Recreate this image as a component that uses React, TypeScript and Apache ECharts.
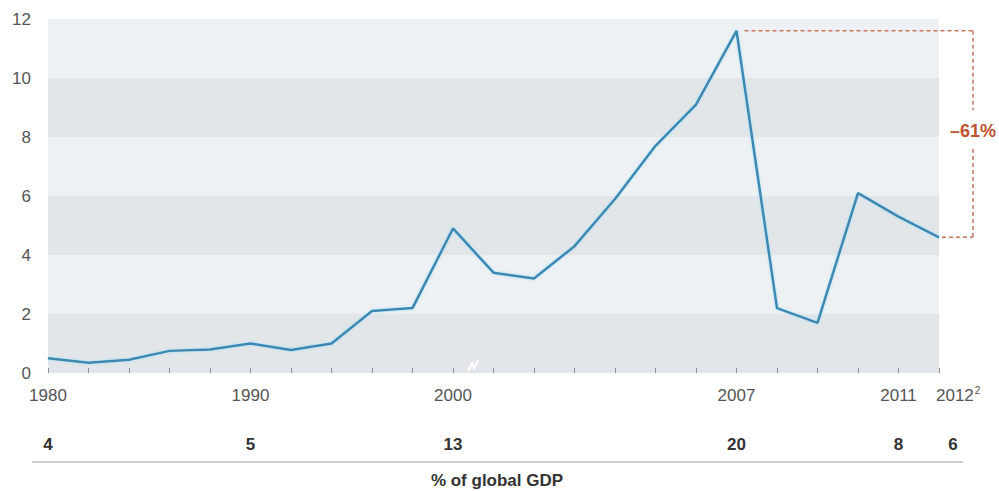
import React, { useEffect, useRef } from "react";
import * as echarts from "echarts";

const years: string[] = [
  "1980", "1982", "1984", "1986", "1988", "1990", "1992", "1994", "1996", "1998",
  "2000", "2001", "2002", "2003", "2004", "2005", "2006", "2007", "2008", "2009",
  "2010", "2011", "2012",
];
const flows: number[] = [
  0.5, 0.35, 0.45, 0.75, 0.8, 1.0, 0.78, 1.0, 2.1, 2.2,
  4.9, 3.4, 3.2, 4.3, 5.9, 7.7, 9.1, 11.6, 2.2, 1.7,
  6.1, 5.3, 4.6,
];
const labeledYears: string[] = ["1980", "1990", "2000", "2007", "2011"];
const lastYear = "2012";
const lastYearNote = "2";
const gdpShareYears: string[] = ["1980", "1990", "2000", "2007", "2011", "2012"];
const gdpShare: number[] = [4, 5, 13, 20, 8, 6];
const peakYear = "2007";
const changeLabel = "–61%";
const footLabel = "% of global GDP";

const FONT = "'Liberation Sans', Arial, Helvetica, sans-serif";

export default function App() {
  const ref = useRef<HTMLDivElement>(null);
  useEffect(() => {
    if (!ref.current) return;
    const chart = echarts.init(ref.current, undefined, { renderer: "svg" });
    const option: any = {
      animation: false,
      backgroundColor: "#ffffff",
      grid: { left: 48, right: 60, top: 19, bottom: 118, containLabel: false },
      xAxis: [
        {
          type: "category",
          data: years,
          boundaryGap: false,
          axisLine: { show: false },
          axisTick: {
            show: true,
            inside: true,
            length: 5,
            interval: 0,
            lineStyle: { color: "#8a8f93", width: 1 },
          },
          axisLabel: {
            interval: (i: number, v: string) => labeledYears.includes(v),
            margin: 12,
            color: "#555",
            fontSize: 17,
            lineHeight: 20,
            fontFamily: FONT,
          },
          splitLine: { show: false },
        },
        {
          type: "category",
          data: years,
          boundaryGap: false,
          position: "bottom",
          offset: 50,
          axisLine: { show: false },
          axisTick: { show: false },
          axisLabel: {
            interval: (i: number, v: string) => gdpShareYears.includes(v),
            margin: 11,
            formatter: (v: string) => {
              const idx = gdpShareYears.indexOf(v);
              const val = idx >= 0 ? String(gdpShare[idx]) : "";
              return v === lastYear ? `{shift|${val}}` : `{b|${val}}`;
            },
            rich: {
              b: { fontSize: 17, fontWeight: "bold", color: "#333", fontFamily: FONT, lineHeight: 20 },
              shift: {
                fontSize: 17,
                fontWeight: "bold",
                color: "#333",
                fontFamily: FONT,
                lineHeight: 20,
                padding: [0, 0, 0, 28],
              },
            },
          },
          splitLine: { show: false },
        },
      ],
      yAxis: {
        type: "value",
        min: 0,
        max: 12,
        interval: 2,
        axisLine: { show: false },
        axisTick: { show: false },
        axisLabel: { color: "#555", fontSize: 17, fontFamily: FONT, margin: 17 },
        splitLine: { show: false },
        splitArea: {
          show: true,
          areaStyle: { color: ["#e2e6e9", "#eef1f3"] },
        },
      },
      series: [
        {
          type: "line",
          data: flows,
          xAxisIndex: 0,
          symbol: "none",
          lineStyle: {
            color: "#3a88b2",
            width: 2.5,
            shadowColor: "#a9e0f6",
            shadowBlur: 3,
          },
          z: 5,
        },
      ],
    };
    chart.setOption(option);

    const pi = years.indexOf(peakYear);
    const li = years.indexOf(lastYear);
    const p7 = chart.convertToPixel({ gridIndex: 0 }, [pi, flows[pi]]) as number[];
    const p12 = chart.convertToPixel({ gridIndex: 0 }, [li, flows[li]]) as number[];
    const base12 = chart.convertToPixel({ gridIndex: 0 }, [li, 0]) as number[];
    const i2000 = years.indexOf("2000");
    const b0 = chart.convertToPixel({ gridIndex: 0 }, [i2000, 0]) as number[];
    const b1 = chart.convertToPixel({ gridIndex: 0 }, [i2000 + 1, 0]) as number[];
    const bx = 973;
    const midY = (p7[1] + p12[1]) / 2;
    const red = "#c8745e";
    const dash = { stroke: red, lineWidth: 1.5, lineDash: [4, 3] };
    const brkX = (b0[0] + b1[0]) / 2;
    chart.setOption({
      graphic: [
        { type: "line", shape: { x1: p7[0] + 8, y1: p7[1], x2: bx, y2: p7[1] }, style: dash, z: 10 },
        { type: "line", shape: { x1: bx, y1: p7[1], x2: bx, y2: midY - 24 }, style: dash, z: 10 },
        { type: "line", shape: { x1: bx, y1: midY + 15, x2: bx, y2: p12[1] }, style: dash, z: 10 },
        { type: "line", shape: { x1: p12[0] + 3, y1: p12[1], x2: bx, y2: p12[1] }, style: dash, z: 10 },
        {
          type: "text",
          x: bx,
          y: midY - 3,
          style: {
            text: changeLabel,
            fill: "#c0532f",
            font: `bold 18px ${FONT}`,
            align: "center",
            verticalAlign: "middle",
          },
          z: 10,
        },
        {
          type: "text",
          x: base12[0] - 3,
          y: base12[1] + 22,
          style: {
            text: `{n|${lastYear}}{s|${lastYearNote}}`,
            align: "left",
            verticalAlign: "middle",
            rich: {
              n: { fontSize: 17, fill: "#555", fontFamily: FONT, lineHeight: 20 },
              s: { fontSize: 10, fill: "#555", fontFamily: FONT, lineHeight: 20, verticalAlign: "top", padding: [0, 0, 8, 1] },
            },
          },
          z: 10,
        },
        {
          type: "polyline",
          shape: {
            points: [
              [brkX - 5, b0[1] - 2],
              [brkX - 1, b0[1] - 10],
              [brkX + 1, b0[1] - 5],
              [brkX + 5, b0[1] - 13],
            ],
          },
          style: { stroke: "#ffffff", lineWidth: 2, fill: null },
          z: 10,
        },
        {
          type: "line",
          shape: { x1: 32, y1: 462, x2: 963, y2: 462 },
          style: { stroke: "#9a9a9a", lineWidth: 1 },
        },
        {
          type: "text",
          x: 497,
          y: 480,
          style: {
            text: footLabel,
            fill: "#333",
            font: `bold 17px ${FONT}`,
            align: "center",
            verticalAlign: "middle",
          },
        },
      ],
    });

    return () => chart.dispose();
  }, []);
  return (
    <div
      ref={ref}
      style={{ position: "absolute", left: 0, top: 0, width: 999, height: 491 }}
    />
  );
}
